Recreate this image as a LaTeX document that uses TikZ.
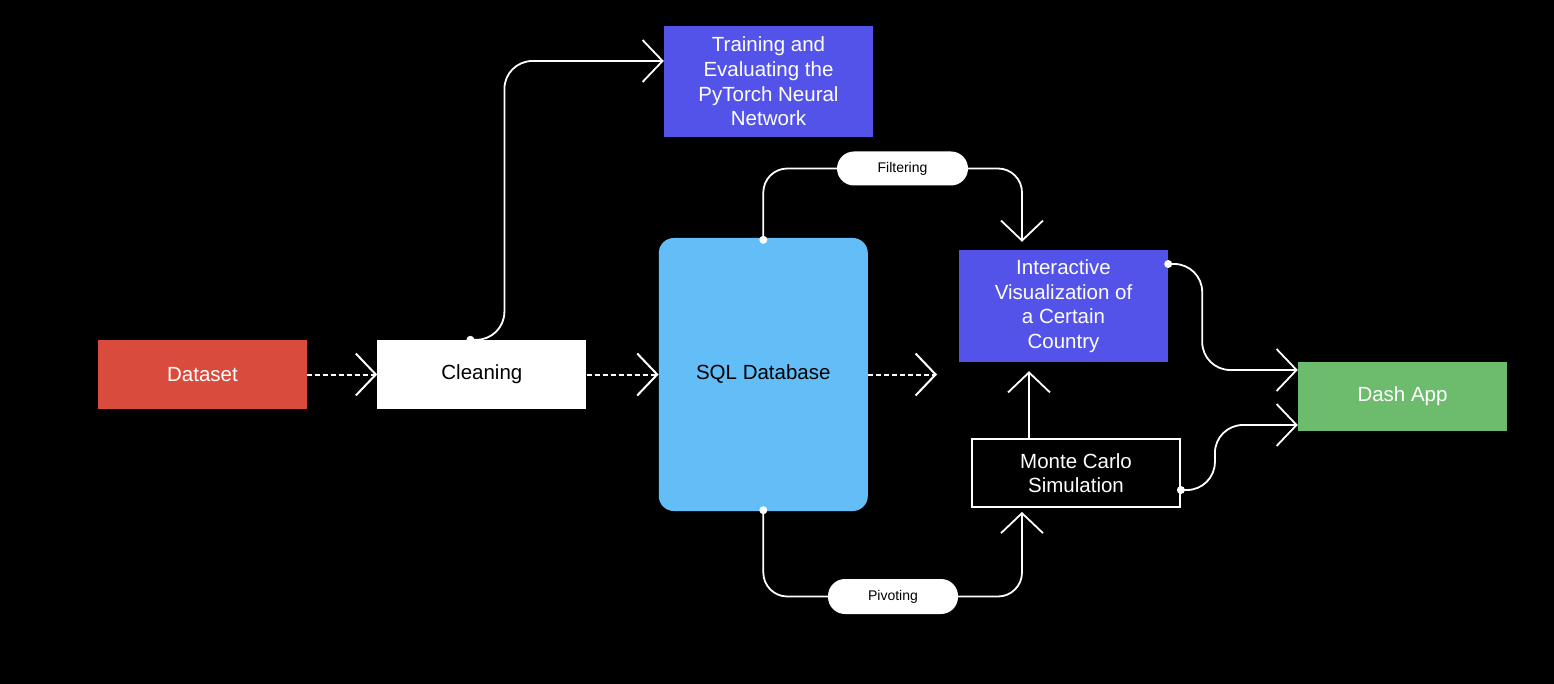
\documentclass[tikz,border=0pt]{standalone}
\usepackage{fontspec}
\setmainfont{Liberation Sans}
\usepackage{tikz}
\usetikzlibrary{positioning}
\usetikzlibrary{arrows.meta,calc}
\usepackage{xcolor}
\definecolor{datared}{HTML}{D94B3D}
\definecolor{sqlblue}{HTML}{63BEF8}
\definecolor{vispurple}{HTML}{5353EA}
\definecolor{dashgreen}{HTML}{6DBB6D}
\pgfkeys{tikz/stagebox/.style={minimum width=209pt,minimum height=69pt,inner sep=0pt,align=center,text=white,font=\fontsize{20.5}{24.6}\selectfont}}
\pgfkeys{tikz/pillbox/.style={fill=white,rounded corners=17pt,minimum width=131pt,minimum height=34pt,inner sep=0pt,text=black,font=\fontsize{14}{16}\selectfont}}
\pgfkeys{tikz/flowline/.style={draw=white,line width=1.8pt,rounded corners=28pt}}
\pgfkeys{tikz/flowarrow/.style={flowline,-{Straight Barb[length=20pt,width=42pt]}}}
\pgfkeys{tikz/dashflow/.style={flowarrow,line width=2pt,dash pattern=on 5pt off 3pt}}
\pgfkeys{tikz/startdot/.style={fill=white}}

\begin{document}
\begin{tikzpicture}[x=1pt,y=-1pt]

	\fill[black] (0,0) rectangle (1554,684);
	\useasboundingbox (0,0) rectangle (1554,684);

	\node[stagebox, fill=datared] (dataset) at (202.5,374.5) {\raisebox{-1.5pt}{Dataset}};
	\node[stagebox, fill=white, text=black, right=70pt of dataset] (cleaning) {\raisebox{-1.5pt}{Cleaning}};
	\node[stagebox, fill=sqlblue, text=black, minimum height=273pt, rounded corners=15pt, right=72pt of cleaning] (sql) {\raisebox{-1.5pt}{SQL Database}};
	\node[stagebox, fill=vispurple, minimum height=111pt] (training) at (768.5,81.5) {Training and\\Evaluating the\\PyTorch Neural\\Network};
	\node[stagebox, fill=vispurple, minimum height=112pt] (interactive) at (1063.5,306) {Interactive\\Visualization of\\a Certain\\Country};
	\node[stagebox, fill=black, draw=white, line width=1.8pt, minimum width=208pt, minimum height=68pt] (monte) at (1076,473) {Monte Carlo\\Simulation};
	\node[stagebox, fill=dashgreen] (dash) at (1402.5,396.5) {\raisebox{-1.5pt}{Dash App}};
	\node[pillbox] (filtering) at (902.5,168.5) {Filtering};
	\node[pillbox, minimum width=130pt, minimum height=35pt] (pivoting) at (893,596.5) {Pivoting};

	\coordinate (sqlend) at (937,374.5);
	\coordinate (cleanout) at ([xshift=-11.5pt]cleaning.north);
	\coordinate (sqltop) at ([yshift=-2pt]sql.north);
	\coordinate (sqlbottom) at ([yshift=1pt]sql.south);
	\coordinate (visout) at ([yshift=42pt]interactive.east);
	\coordinate (monteout) at ([yshift=-17pt]monte.east);
	\coordinate (monteup) at ([xshift=-47pt]monte.north);

	\draw[dashflow] (dataset) -- (cleaning);
	\draw[dashflow] (cleaning) -- (sql);
	\draw[dashflow] (sql) -- (sqlend);

	\draw[flowarrow] (cleanout) -- ++(34,0) |- ([yshift=20.5pt]training.west);
	\draw[flowline, rounded corners=24pt] (sqltop) |- (filtering.west);
	\draw[flowarrow, rounded corners=24pt, shorten >=8pt] (filtering.east) -| ([xshift=-41.5pt]interactive.north);
	\draw[flowline, rounded corners=24pt] (sqlbottom) |- (pivoting.west);
	\draw[flowarrow, rounded corners=24pt, shorten >=4pt] (pivoting.east) -| ([xshift=-54pt]monte.south);
	\draw[flowarrow, shorten >=9pt] (monteup) -- (monteup |- interactive.south);
	\draw[flowarrow] (visout) -- ++(34,0) |- ([yshift=26.5pt]dash.west);
	\draw[flowarrow] (monteout) -- ++(34,0) |- ([yshift=-28.5pt]dash.west);

	\fill[startdot] (cleanout) circle (4pt);
	\fill[startdot] (sqltop) circle (4pt);
	\fill[startdot] (sqlbottom) circle (4pt);
	\fill[startdot] (visout) circle (4pt);
	\fill[startdot] (monteout) circle (4pt);

\end{tikzpicture}
\end{document}
